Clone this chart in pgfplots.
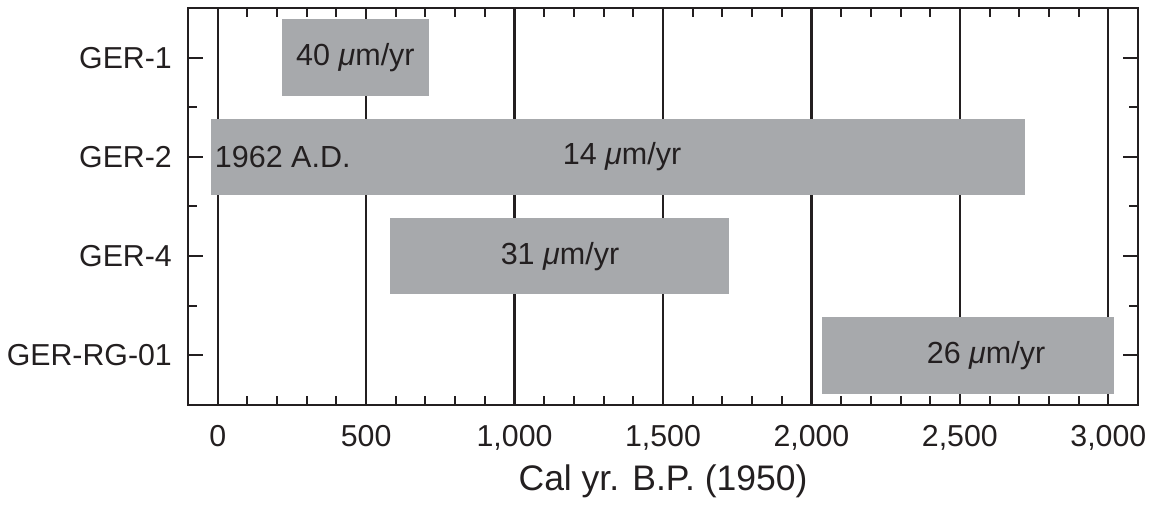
\documentclass[border=0pt]{standalone}
\usepackage{fontspec}
\setmainfont{Liberation Sans}
\usepackage{pgfplots}
\pgfplotsset{compat=1.18}
\usetikzlibrary{calc}
\definecolor{bargray}{HTML}{A7A9AC}
\definecolor{ink}{HTML}{231F20}
\begin{document}
\begin{tikzpicture}
\begin{axis}[
  scale only axis, width=950bp, height=397bp,
  xmin=-100, xmax=3100, ymin=0.5, ymax=4.5,
  axis line style={line width=2.2bp, ink},
  xtick={0,500,...,3000},
  minor x tick num=4,
  xmajorgrids, major grid style={line width=2.2bp, ink},
  ytick={1,2,3,4}, yticklabels={GER-RG-01,GER-4,GER-2,GER-1},
  minor ytick={1.5,2.5,3.5},
  tick align=inside,
  major tick length=15bp, minor tick length=9bp,
  tick style={line width=2bp, ink},
  /pgf/number format/.cd, 1000 sep={,}, assume math mode=true, /pgfplots/.cd,
  ticklabel style={font=\fontsize{30.3bp}{35bp}\selectfont, text=ink},
  xticklabel style={inner sep=0pt, yshift=-20bp},
  yticklabel style={inner sep=0pt, xshift=-16bp},
  xlabel={Cal yr. B.P. (1950)},
  xlabel style={font=\fontsize{35.5bp}{40bp}\selectfont, text=ink, at={(axis description cs:0.5,0)}, anchor=base, yshift=-85bp},
]
\addplot[fill=bargray, draw=none] coordinates {(215,3.615) (713,3.615) (713,4.385) (215,4.385)} --cycle;
\addplot[fill=bargray, draw=none] coordinates {(-21,2.615) (2720,2.615) (2720,3.385) (-21,3.385)} --cycle;
\addplot[fill=bargray, draw=none] coordinates {(580,1.615) (1723,1.615) (1723,2.385) (580,2.385)} --cycle;
\addplot[fill=bargray, draw=none] coordinates {(2036,0.615) (3020,0.615) (3020,1.385) (2036,1.385)} --cycle;
\node[font=\fontsize{30.5bp}{35bp}\selectfont, text=ink] at (axis cs:464,4) {40 \textit{μ}m/yr};
\node[font=\fontsize{30.5bp}{35bp}\selectfont, text=ink] at (axis cs:1362,3) {14 \textit{μ}m/yr};
\node[font=\fontsize{30.5bp}{35bp}\selectfont, text=ink, anchor=west, inner sep=0pt] at (axis cs:-10,3) {1962 A.D.};
\node[font=\fontsize{30.5bp}{35bp}\selectfont, text=ink] at (axis cs:1153,2) {31 \textit{μ}m/yr};
\node[font=\fontsize{30.5bp}{35bp}\selectfont, text=ink] at (axis cs:2588,1) {26 \textit{μ}m/yr};
\coordinate (BL) at (rel axis cs:0,0);
\coordinate (TR) at (rel axis cs:1,1);
\end{axis}
\path ($(BL)+(-188bp,-100bp)$) ($(TR)+(21bp,8bp)$);
\end{tikzpicture}
\end{document}
